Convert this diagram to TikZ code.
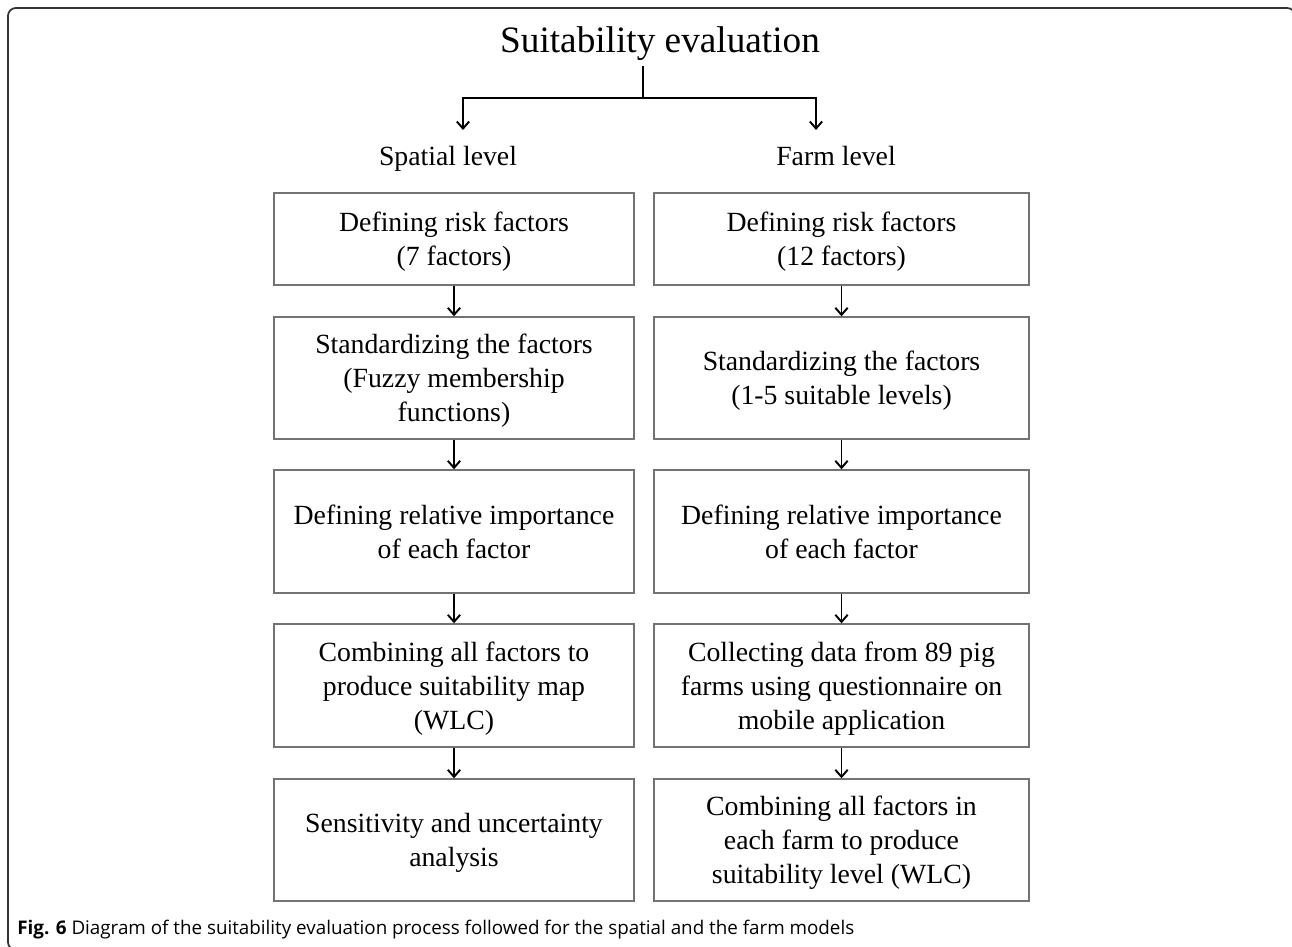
\documentclass[tikz,border=0pt]{standalone}
\usepackage{fontspec}
\setmainfont{Liberation Serif}
\newfontfamily\capfont{Open Sans}
\usetikzlibrary{arrows.meta}

\begin{document}
\begin{tikzpicture}[x=0.02cm,y=0.02cm]
	\tikzstyle{every node}+=[inner sep=0pt]
	\tikzstyle{stepbox}=[draw=black!55, line width=0.8pt, align=center, text depth=-2.3pt, font=\fontsize{15.8}{19.3}\selectfont]
	\tikzstyle{leftbox}=[stepbox, minimum width=7.2cm]
	\tikzstyle{rightbox}=[stepbox, minimum width=7.5cm]
	\tikzstyle{arr}=[-{Straight Barb[length=4pt,width=7pt]}, line width=1.1pt]
	\useasboundingbox (0,0) rectangle (1292,-947);
	\clip (0,0) rectangle (1292,-947);
	\draw [black!80, line width=1pt, rounded corners=4.5pt] (8,-8) rectangle (1295,-950);
	% title and the two levels
	\node (title) [anchor=base, font=\fontsize{21.2}{25}\selectfont] at (660,-52) {Suitability evaluation};
	\node (spatial) [anchor=base, font=\fontsize{15.8}{19.3}\selectfont] at (448,-165) {Spatial level};
	\node (farm) [anchor=base, font=\fontsize{15.8}{19.3}\selectfont] at (836,-165) {Farm level};
	\coordinate (stem) at (643,-66);
	\coordinate (split) at (643,-98);
	\coordinate (spatialin) at (463,-130);
	\coordinate (farmin) at (816,-130);
	\draw [line width=1.1pt] (stem) -- (split);
	\draw [arr] (split) -| (spatialin);
	\draw [arr] (split) -| (farmin);
	% spatial column
	\node (s1) [leftbox, minimum height=1.84cm] at (454,-239) {Defining risk factors\\(7 factors)};
	\node (s2) [leftbox, minimum height=2.44cm] at (454,-378) {Standardizing the factors\\(Fuzzy membership\\functions)};
	\node (s3) [leftbox, minimum height=2.46cm] at (454,-531.5) {Defining relative importance\\of each factor};
	\node (s4) [leftbox, minimum height=2.46cm] at (454,-685.5) {Combining all factors to\\produce suitability map\\(WLC)};
	\node (s5) [leftbox, minimum height=2.44cm] at (454,-840) {Sensitivity and uncertainty\\analysis};
	% farm column
	\node (f1) [rightbox, minimum height=1.84cm] at (841.5,-239) {Defining risk factors\\(12 factors)};
	\node (f2) [rightbox, minimum height=2.44cm] at (841.5,-378) {Standardizing the factors\\(1-5 suitable levels)};
	\node (f3) [rightbox, minimum height=2.46cm] at (841.5,-531.5) {Defining relative importance\\of each factor};
	\node (f4) [rightbox, minimum height=2.46cm] at (841.5,-685.5) {Collecting data from 89 pig\\farms using questionnaire on\\mobile application};
	\node (f5) [rightbox, minimum height=2.44cm] at (841.5,-840) {Combining all factors in\\each farm to produce\\suitability level (WLC)};
	\foreach \a/\b in {s1/s2,s2/s3,s3/s4,s4/s5,f1/f2,f2/f3,f3/f4,f4/f5}
		\draw [arr] (\a) -- (\b);
	% caption
	\node (caption) [anchor=base west, font=\capfont\fontsize{10.7}{13}\selectfont] at (17,-934) {\textbf{Fig. 6} Diagram of the suitability evaluation process followed for the spatial and the farm models};
\end{tikzpicture}
\end{document}
